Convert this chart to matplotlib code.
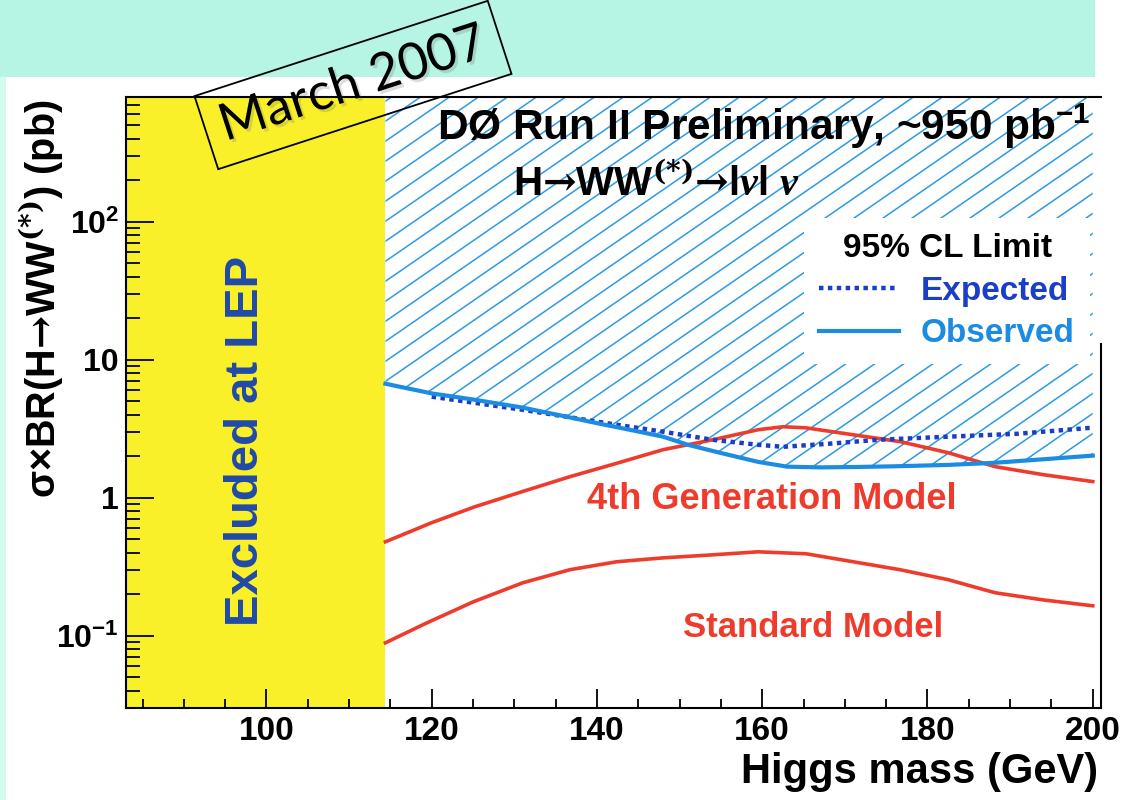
import numpy as np
import matplotlib
matplotlib.use("Agg")
import matplotlib.pyplot as plt
import matplotlib.patheffects as pe
from matplotlib.collections import LineCollection
from matplotlib.patches import Rectangle, Polygon
from matplotlib.ticker import FixedLocator, FixedFormatter, MultipleLocator, LogLocator, NullFormatter

plt.rcParams['font.family'] = ['Liberation Sans', 'DejaVu Sans']
plt.rcParams['font.weight'] = 'bold'
plt.rcParams['mathtext.fontset'] = 'custom'
plt.rcParams['mathtext.rm'] = 'DejaVu Serif'
plt.rcParams['mathtext.it'] = 'Liberation Serif:italic'
plt.rcParams['mathtext.bf'] = 'Liberation Sans:bold'
plt.rcParams['mathtext.default'] = 'regular'

# LEP direct search limit (GeV)
lep_limit = 114.4

# 95% CL limits on sigma x BR(H->WW) in pb
obs_mass = [114.4, 120, 125, 131, 136, 140, 145, 148, 151, 155, 159.5, 163, 167, 171, 176, 182.5, 188, 194, 200]
obs_limit = [6.7, 5.7, 5.15, 4.5, 3.9, 3.47, 3.02, 2.77, 2.42, 2.11, 1.82, 1.68, 1.66, 1.67, 1.69, 1.73, 1.79, 1.90, 2.02]

exp_mass = [120, 125, 131, 136, 142.4, 148, 154, 159.5, 162.5, 168, 174, 182.5, 191, 200]
exp_limit = [5.4, 4.89, 4.34, 3.89, 3.38, 3.01, 2.63, 2.42, 2.34, 2.46, 2.63, 2.77, 2.91, 3.22]

# model predictions
g4_mass = [114.4, 120, 125.2, 131, 136.7, 142, 148, 154, 159.5, 162.5, 165.3, 171, 176.7, 182.5, 188.2, 194, 200]
g4_xsec = [0.48, 0.66, 0.86, 1.11, 1.42, 1.75, 2.23, 2.63, 3.11, 3.27, 3.21, 2.86, 2.55, 2.12, 1.68, 1.47, 1.31]

sm_mass = [114.4, 119.4, 125, 131, 136.7, 142.4, 148, 154, 159.5, 165.3, 171, 176.7, 182.5, 188.2, 194, 200]
sm_xsec = [0.089, 0.124, 0.176, 0.242, 0.301, 0.344, 0.367, 0.386, 0.406, 0.393, 0.344, 0.301, 0.255, 0.205, 0.182, 0.165]

ytick_vals = [0.1, 1, 10, 100]
ytick_labels = ['10$^{-1}$', '1', '10', '10$^{2}$']

red = '#EE3B2B'
obs_blue = '#1C8CE3'
exp_blue = '#1B3FC4'
hatch_blue = '#2B9BE5'

fig = plt.figure(figsize=(11.23, 8.0), dpi=100)
fig_w, fig_h = 1123, 800

# slide background: mint banner on top and thin strip on the left
fig.add_artist(Rectangle((0, 723 / fig_h), 1095 / fig_w, 77 / fig_h, transform=fig.transFigure,
                         fc='#B6F5E3', ec='none', zorder=-2))
fig.add_artist(Rectangle((0, 0), 6 / fig_w, 723 / fig_h, transform=fig.transFigure,
                         fc='#D4FBF0', ec='none', zorder=-2))

ax_px = (126, 92, 975, 611)
ax = fig.add_axes([ax_px[0] / fig_w, ax_px[1] / fig_h, ax_px[2] / fig_w, ax_px[3] / fig_h])
ax.set_yscale('log')
ax.set_xlim(83, 201)
ax.set_ylim(0.03, 800)

ax.axvspan(83, lep_limit, color='#F9F02A', lw=0, zorder=0)

# hatched excluded region above the observed limit
poly = Polygon(list(zip(obs_mass, obs_limit)) + [(obs_mass[-1], 800), (obs_mass[0], 800)],
               closed=True, fc='none', ec='none', transform=ax.transData)
ax.add_patch(poly)
W, H = ax_px[2], ax_px[3]
slope = 0.69
spacing = 29
starts = np.arange(-272 - spacing * 40, W, spacing)
segs = [[(c / W, 0), ((c + H / slope) / W, 1)] for c in starts]
lc = LineCollection(segs, transform=ax.transAxes, colors=hatch_blue, linewidths=1.1, zorder=1)
ax.add_collection(lc, autolim=False)
lc.set_clip_path(poly)

ax.plot(sm_mass, sm_xsec, color=red, lw=2.6, zorder=3)
ax.plot(g4_mass, g4_xsec, color=red, lw=2.6, zorder=3)
exp_line, = ax.plot(exp_mass, exp_limit, color=exp_blue, lw=3.2, ls=(0, (1, 1)), zorder=4)
obs_line, = ax.plot(obs_mass, obs_limit, color=obs_blue, lw=3.0, zorder=4)

leg = ax.legend([exp_line, obs_line], ['Expected', 'Observed'], title='95% CL Limit',
                loc='upper right', bbox_to_anchor=(0.9887, 0.802), borderaxespad=0,
                frameon=True, fancybox=False, framealpha=1, edgecolor='none', facecolor='white',
                prop={'size': 24, 'weight': 'bold'},
                title_fontproperties={'size': 24, 'weight': 'bold'},
                handlelength=2.4, handletextpad=0.65, labelspacing=0.35, borderpad=0.45,
                labelcolor='linecolor')
leg.set_zorder(5)

ax.text(120.6, 393, r'DØ Run II Preliminary, ~950 pb$^{-1}$', fontsize=30.5,
        ha='left', va='baseline', zorder=6)
ax.text(129.8, 152, r'H$\mathrm{→}$WW$^{\mathrm{(*)}}\mathrm{→}$l$\mathit{\nu}$l $\mathit{\nu}$',
        fontsize=29, ha='left', va='baseline', zorder=6)

ax.text(97.5, 2.59, 'Excluded at LEP', rotation=90, ha='center', va='center',
        fontsize=34, color='#1F4AA8', zorder=6)
ax.text(161.1, 0.967, '4th Generation Model', ha='center', va='center', fontsize=26, color=red, zorder=6)
ax.text(166.1, 0.114, 'Standard Model', ha='center', va='center', fontsize=25, color=red, zorder=6)

# axes styling
ax.xaxis.set_major_locator(MultipleLocator(20))
ax.xaxis.set_minor_locator(MultipleLocator(5))
ax.yaxis.set_major_locator(FixedLocator(ytick_vals))
ax.yaxis.set_major_formatter(FixedFormatter(ytick_labels))
ax.yaxis.set_minor_locator(LogLocator(base=10, subs=np.arange(2, 10), numticks=30))
ax.yaxis.set_minor_formatter(NullFormatter())
ax.tick_params(axis='x', which='major', direction='in', length=13.7, width=1.3, labelsize=24, pad=6)
ax.tick_params(axis='x', which='minor', direction='in', length=6.5, width=1.3)
ax.tick_params(axis='y', which='major', direction='in', length=20, width=1.3, labelsize=23, pad=5)
ax.tick_params(axis='y', which='minor', direction='in', length=10, width=1.3)
ax.tick_params(top=False, right=False, which='both')
for s in ax.spines.values():
    s.set_linewidth(1.5)
ax.spines['right'].set_bounds(0.03, 13)

fig.text(42 / fig_w, 1 - 299 / fig_h, r'σ×BR(H$\mathrm{→}$WW$^{\mathrm{(*)}}$) (pb)',
         rotation=90, ha='center', va='center', fontsize=28.5)
fig.text(1098 / fig_w, 1 - 772 / fig_h, 'Higgs mass (GeV)', ha='right', va='center', fontsize=30)

# date stamp
fig.text(353 / fig_w, 1 - 85 / fig_h, 'March 2007', fontsize=37, family=['Lato', 'DejaVu Sans'],
         fontweight='normal', rotation=18, rotation_mode='anchor', ha='center', va='center',
         bbox=dict(boxstyle='square,pad=0.3', fc='none', ec='black', lw=1.3),
         path_effects=[pe.withSimplePatchShadow(offset=(2, -2), shadow_rgbFace='#555555', alpha=0.2)],
         zorder=10)

fig.savefig('out.png', dpi=100)
